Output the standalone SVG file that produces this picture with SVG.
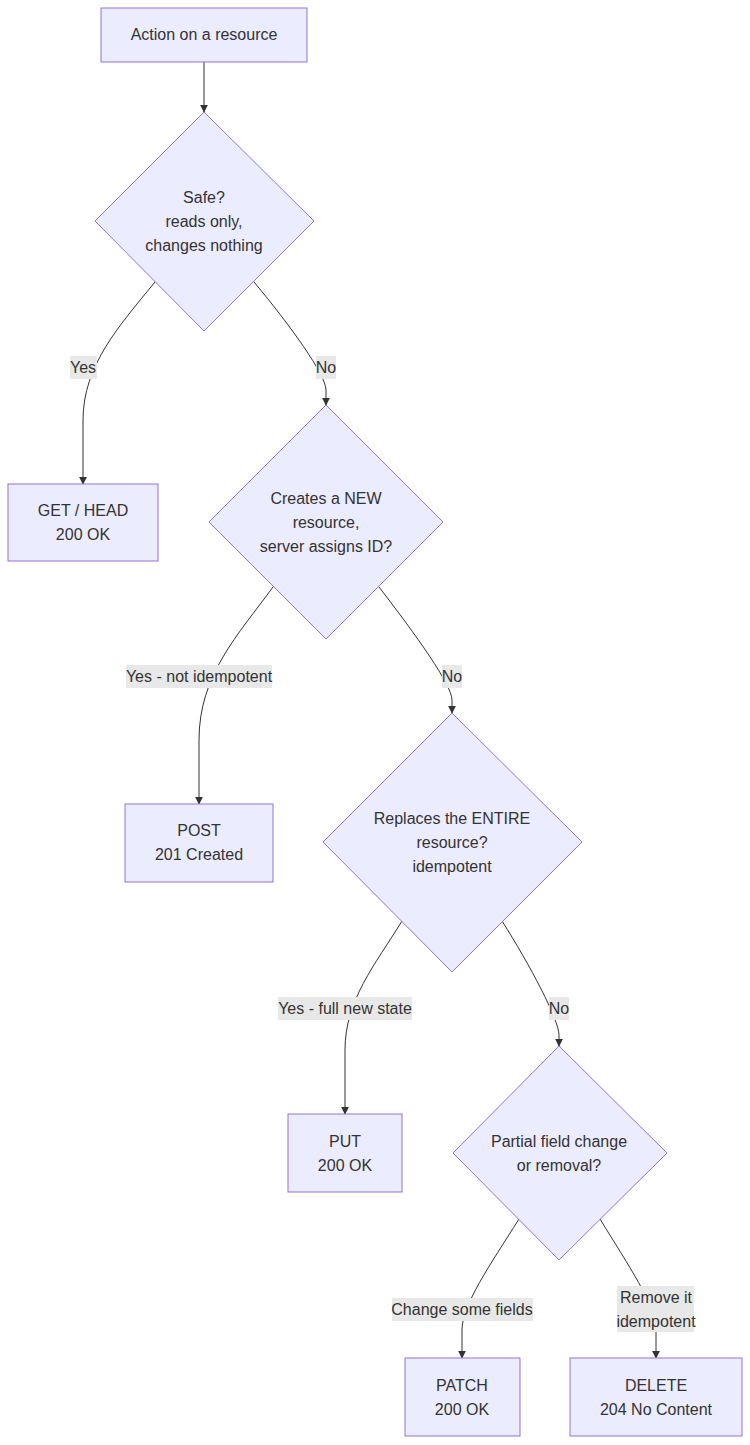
<svg xmlns="http://www.w3.org/2000/svg" width="750" height="1445" viewBox="0 0 750 1445">
<style>
.n{fill:#ECECFF;stroke:#9370DB;stroke-width:1}
.t{font-family:"Liberation Sans",Arial,sans-serif;font-size:16px;fill:#333;text-anchor:middle}
.e{fill:none;stroke:#333;stroke-width:1;marker-end:url(#a)}
.lb{fill:#e8e8e8}
</style>
<defs><marker id="a" viewBox="0 0 10 10" refX="9" refY="5" markerWidth="8" markerHeight="8" orient="auto"><path d="M0,0L10,5L0,10z" fill="#333"/></marker></defs>
<rect width="750" height="1445" fill="#fff"/>
<g id="edges">
<path class="e" d="M204,62V112"/>
<path class="e" d="M155,282C120,325 83,365 83,420V484"/>
<path class="e" d="M254,282C290,325 326,375 326,390V405"/>
<path class="e" d="M273,587C238,635 199,675 199,740V804"/>
<path class="e" d="M379,587C416,635 452,685 452,700V713"/>
<path class="e" d="M402,921C375,965 345,1000 345,1050V1114"/>
<path class="e" d="M502,921C530,965 559,1020 559,1035V1046"/>
<path class="e" d="M519,1219C490,1265 462,1305 462,1330V1358"/>
<path class="e" d="M600,1219C628,1265 656,1305 656,1330V1358"/>
</g>
<g id="labels">
<rect class="lb" x="70" y="356" width="27" height="23"/><text class="t" x="83" y="373">Yes</text>
<rect class="lb" x="316" y="356" width="20" height="23"/><text class="t" x="326" y="373">No</text>
<rect class="lb" x="126" y="665" width="146" height="23"/><text class="t" x="199" y="682">Yes - not idempotent</text>
<rect class="lb" x="442" y="665" width="20" height="23"/><text class="t" x="452" y="682">No</text>
<rect class="lb" x="278" y="997" width="134" height="23"/><text class="t" x="345" y="1014">Yes - full new state</text>
<rect class="lb" x="549" y="997" width="20" height="23"/><text class="t" x="559" y="1014">No</text>
<rect class="lb" x="392" y="1298" width="141" height="23"/><text class="t" x="462" y="1315">Change some fields</text>
<rect class="lb" x="617" y="1286" width="77" height="46"/><text class="t" x="656" y="1303">Remove it</text><text class="t" x="656" y="1327">idempotent</text>
</g>
<g id="start"><rect class="n" x="101" y="8" width="206" height="54"/><text class="t" x="204" y="40">Action on a resource</text></g>
<g id="safe"><polygon class="n" points="204,112 314,221 204,331 95,221"/><text class="t" x="204" y="203">Safe?</text><text class="t" x="204" y="227">reads only,</text><text class="t" x="204" y="251">changes nothing</text></g>
<g id="get"><rect class="n" x="8" y="484" width="150" height="77"/><text class="t" x="83" y="516">GET / HEAD</text><text class="t" x="83" y="540">200 OK</text></g>
<g id="creates"><polygon class="n" points="326,405 443,522 326,639 209,522"/><text class="t" x="326" y="504">Creates a NEW</text><text class="t" x="326" y="528">resource,</text><text class="t" x="326" y="552">server assigns ID?</text></g>
<g id="post"><rect class="n" x="125" y="804" width="148" height="78"/><text class="t" x="199" y="836">POST</text><text class="t" x="199" y="860">201 Created</text></g>
<g id="replaces"><polygon class="n" points="452,713 582,842 452,972 323,842"/><text class="t" x="452" y="824">Replaces the ENTIRE</text><text class="t" x="452" y="848">resource?</text><text class="t" x="452" y="872">idempotent</text></g>
<g id="put"><rect class="n" x="288" y="1114" width="114" height="78"/><text class="t" x="345" y="1147">PUT</text><text class="t" x="345" y="1171">200 OK</text></g>
<g id="partial"><polygon class="n" points="559,1046 667,1153 559,1260 453,1153"/><text class="t" x="559" y="1147">Partial field change</text><text class="t" x="559" y="1171">or removal?</text></g>
<g id="patch"><rect class="n" x="405" y="1358" width="115" height="78"/><text class="t" x="462" y="1391">PATCH</text><text class="t" x="462" y="1415">200 OK</text></g>
<g id="delete"><rect class="n" x="570" y="1358" width="172" height="78"/><text class="t" x="656" y="1391">DELETE</text><text class="t" x="656" y="1415">204 No Content</text></g>
</svg>
